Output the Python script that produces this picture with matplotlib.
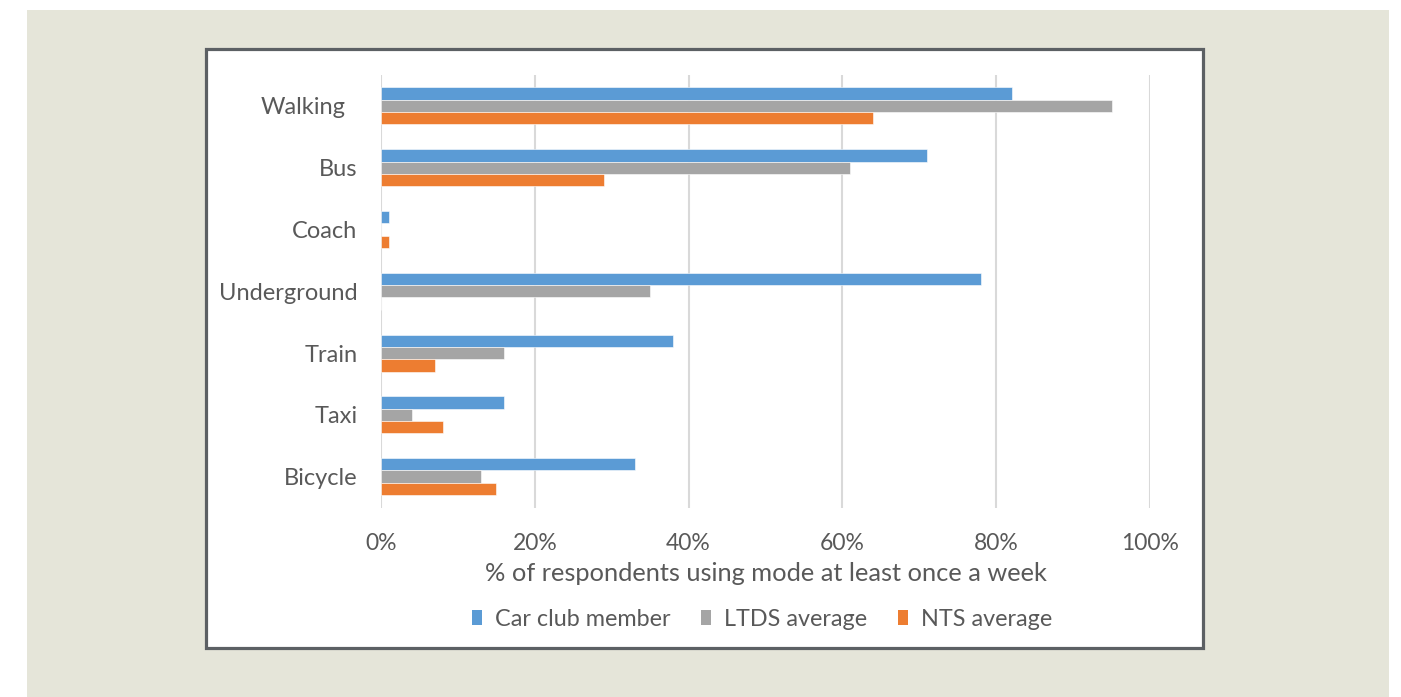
import matplotlib
matplotlib.use("Agg")
import matplotlib.pyplot as plt
from matplotlib.patches import Rectangle, Patch
from matplotlib.ticker import PercentFormatter
from matplotlib.transforms import ScaledTranslation

categories = ["Walking", "Bus", "Coach", "Underground", "Train", "Taxi", "Bicycle"]
car_club = [82, 71, 1, 78, 38, 16, 33]
ltds = [95, 61, 0, 35, 16, 4, 13]
nts = [64, 29, 1, 0, 7, 8, 15]
series_names = ["Car club member", "LTDS average", "NTS average"]
colors = ["#5b9bd5", "#a5a5a5", "#ed7d31"]
xticks = [0, 20, 40, 60, 80, 100]

plt.rcParams['font.family'] = ['Lato', 'DejaVu Sans']
text_color = "#595959"

W, H = 1401, 697
fig = plt.figure(figsize=(W / 100, H / 100), dpi=100)
fig.patch.set_facecolor("white")

def fx(px):
    return px / W

def fy(py):
    return 1 - py / H

# beige background panel
fig.patches.append(Rectangle((fx(27), fy(697)), fx(1389) - fx(27), fy(10) - fy(697),
                             transform=fig.transFigure, facecolor="#e5e5d9", edgecolor="none", zorder=0))
# white chart box with dark border
fig.patches.append(Rectangle((fx(205.5), fy(648)), fx(1203) - fx(205.5), fy(48.5) - fy(648),
                             transform=fig.transFigure, facecolor="white", edgecolor="#5c6064",
                             linewidth=2.3, zorder=1))

ax = fig.add_axes([fx(381), fy(507.5), fx(1150) - fx(381), fy(75) - fy(507.5)])
ax.set_facecolor("none")
ax.set_zorder(2)

h = 0.2
pos = list(range(len(categories)))
for k, (vals, c) in enumerate(zip([car_club, ltds, nts], colors)):
    offs = (k - 1) * h
    ax.barh([p + offs for p in pos], vals, height=h, color=c, edgecolor="white",
            linewidth=0.4, zorder=3)

ax.set_ylim(len(categories) - 0.5, -0.5)
ax.set_yticks(pos)
ax.set_yticklabels(categories)
ax.set_xlim(0, 100)
ax.set_xticks(xticks)
ax.xaxis.set_major_formatter(PercentFormatter(decimals=0))
ax.grid(axis="x", color="#d9d9d9", linewidth=1.5, zorder=0)
for s in ax.spines.values():
    s.set_visible(False)
ax.tick_params(axis="y", length=0, labelsize=17, labelcolor=text_color, pad=17)
ax.tick_params(axis="x", length=0, labelsize=16.5, labelcolor=text_color, pad=18)
ax.set_xlabel("% of respondents using mode at least once a week", fontsize=18.3,
              color=text_color, labelpad=6)

# first category label sits slightly further left in the original
first = ax.get_yticklabels()[0]
first.set_transform(first.get_transform() + ScaledTranslation(-12 / 100, 0, fig.dpi_scale_trans))

handles = [Patch(facecolor=c, edgecolor="none") for c in colors]
fig.legend(handles, series_names, loc="center", bbox_to_anchor=(fx(762), fy(619)),
           ncol=3, frameon=False, fontsize=16.8, labelcolor=text_color,
           handlelength=0.45, handleheight=0.6, handletextpad=0.55, columnspacing=1.3)

fig.savefig("out.png", dpi=100)
